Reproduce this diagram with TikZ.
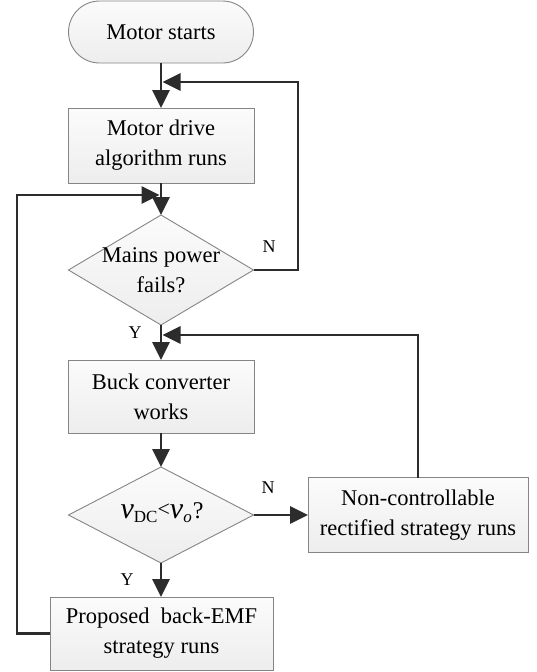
\documentclass[tikz,border=0pt]{standalone}
\usepackage{fontspec}
\setmainfont{Liberation Serif}
\usetikzlibrary{arrows.meta,shapes.geometric}
\definecolor{linec}{HTML}{2C2C2C}
\definecolor{borderc}{HTML}{858585}
\begin{document}
\begin{tikzpicture}[x=1pt,y=-1pt,
  boxstyle/.style={draw=borderc, line width=0.9pt, top color=gray!3, bottom color=gray!14,
    inner sep=0pt, outer sep=0pt, align=center, font=\fontsize{22.5}{30}\selectfont},
  termstyle/.style={boxstyle, rounded corners=31pt},
  decstyle/.style={diamond, draw=borderc, line width=0.9pt, top color=gray!3, bottom color=gray!14,
    inner sep=0pt, outer sep=0pt},
  dectext/.style={align=center, font=\fontsize{22.5}{30}\selectfont, inner sep=0pt},
  conn/.style={draw=linec, line width=2.9pt, -{Triangle[length=18pt,width=17pt]}},
  lbl/.style={font=\fontsize{18}{20}\selectfont, inner sep=0pt}
]
\useasboundingbox (0,0) rectangle (536,672);
% nodes
\node[termstyle, minimum width=185pt, minimum height=62pt] (start) at (161,32) {Motor starts};
\node[boxstyle, minimum width=186pt, minimum height=75pt] (motor) at (161,145.5) {Motor drive\\algorithm runs};
\node[decstyle, minimum width=185pt, minimum height=110pt] (d1) at (161,270) {};
\node[dectext] (d1t) at (161,270) {Mains power\\fails?};
\node[boxstyle, minimum width=186pt, minimum height=73pt] (buck) at (161,396.5) {Buck converter\\works};
\node[decstyle, minimum width=185pt, minimum height=96pt] (d2) at (161,515) {};
\node[dectext] (d2t) at (162,513) {{\fontsize{30}{30}\selectfont\textit{v}}\raisebox{-4pt}{\fontsize{17}{17}\selectfont DC}\raisebox{2pt}{\fontsize{22}{22}\selectfont <}{\fontsize{30}{30}\selectfont\textit{v}}\raisebox{-4pt}{\fontsize{17}{17}\selectfont\textit{o}}\hspace{1pt}{\fontsize{24}{24}\selectfont ?}};
\node[boxstyle, minimum width=220pt, minimum height=75pt] (nc) at (418,515) {Non-controllable\\rectified strategy runs};
\node[boxstyle, minimum width=223pt, minimum height=73pt] (prop) at (161.5,633.5) {Proposed\ \ back-EMF\\strategy runs};
% junction points
\coordinate (j1) at (162.5,82);
\coordinate (j2) at (159.5,195);
\coordinate (j3) at (162.5,335);
% connectors
\draw[conn] (start.south) -- (motor.north);
\draw[conn] (motor.south) -- (d1.north);
\draw[conn] (d1.south) -- (buck.north);
\draw[conn] (buck.south) -- (d2.north);
\draw[conn] (d2.south) -- (d2.south |- prop.north);
\draw[conn] (d2.east) -- (nc.west);
\draw[conn] (d1.east) -- (298,270) -- (298,82) -- (j1);
\draw[conn] (nc.north) -- (nc.north |- j3) -- (j3);
\draw[conn] (prop.west) -- (17,633.5) -- (17,195) -- (j2);
% labels
\node[lbl] (n1) at (269,247) {N};
\node[lbl] (y1) at (135,333) {Y};
\node[lbl] (n2) at (268,488) {N};
\node[lbl] (y2) at (127,580) {Y};
\end{tikzpicture}
\end{document}
